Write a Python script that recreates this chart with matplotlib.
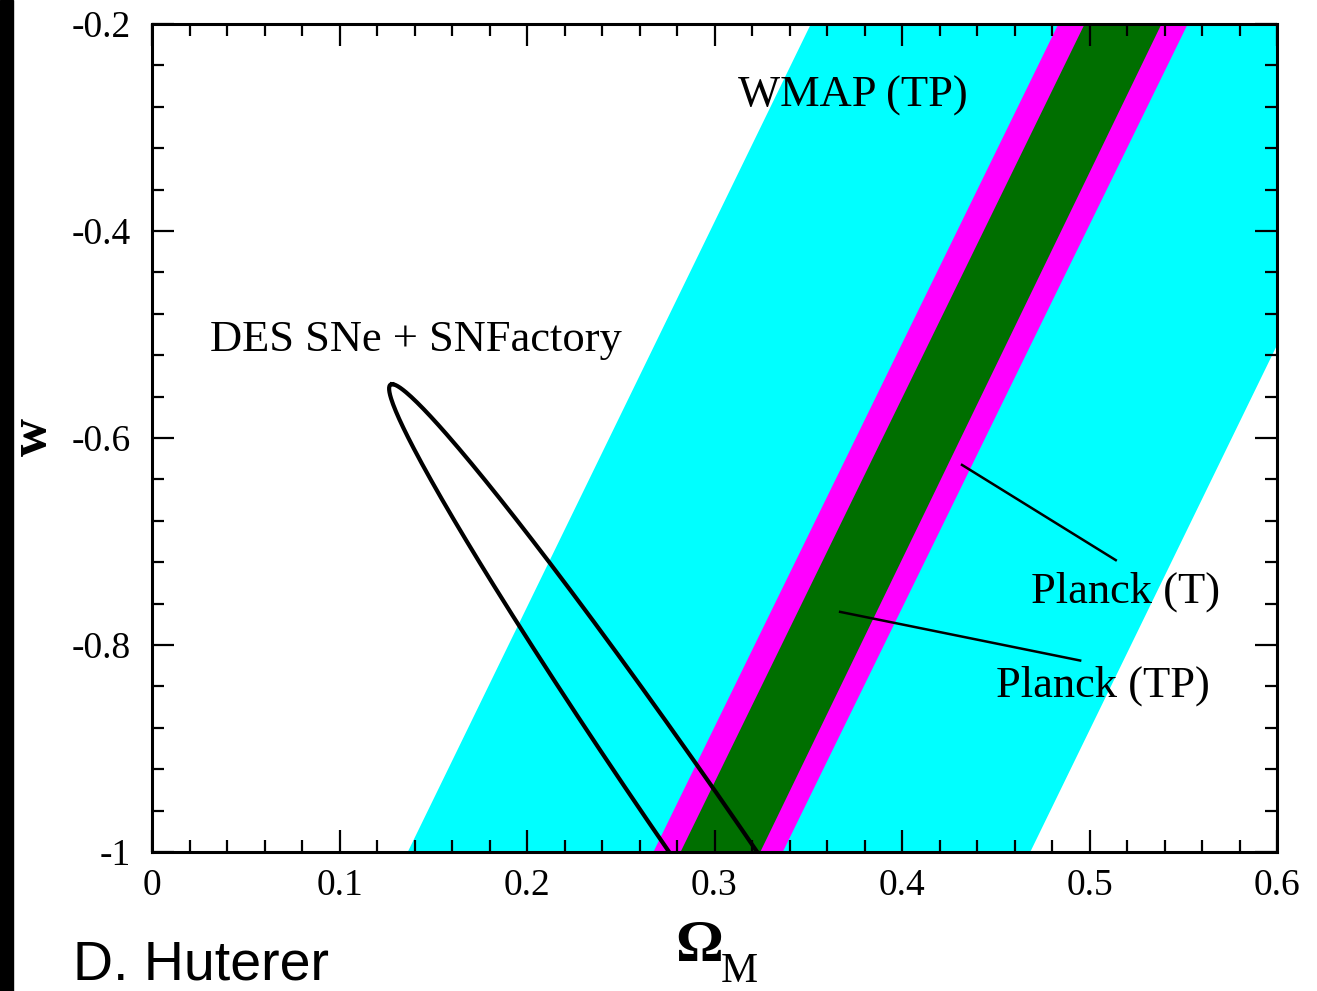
import numpy as np
import matplotlib
matplotlib.use("Agg")
from matplotlib import pyplot as plt
from matplotlib.patches import Rectangle

plt.rcParams['font.family'] = 'Liberation Serif'
plt.rcParams['axes.unicode_minus'] = False

# band edges: Omega_M at w=-1 and at w=-0.2
w_ends = [-1.0, -0.2]
wmap_left = [0.136, 0.351]
wmap_right = [0.468, 0.683]
planckT_left = [0.267, 0.483]
planckT_right = [0.336, 0.552]
planckTP_left = [0.2815, 0.497]
planckTP_right = [0.324, 0.538]

# DES SNe + SNFactory contour (ellipse: centre, half-extent in w, shear, half-width)
des_center = (0.2955, -0.990)
des_half_w = 0.442
des_shear = -0.1674
des_half_om = 0.0235

# labels (Omega_M, w) and pointer lines
label_txt = ["WMAP (TP)", "DES SNe + SNFactory", "Planck (T)", "Planck (TP)"]
label_om = [0.374, 0.141, 0.519, 0.507]
label_w = [-0.280, -0.516, -0.759, -0.850]
ptrT_om = [0.432, 0.514]
ptrT_w = [-0.626, -0.718]
ptrTP_om = [0.367, 0.495]
ptrTP_w = [-0.768, -0.815]

xticks = [0, 0.1, 0.2, 0.3, 0.4, 0.5, 0.6]
xticklabels = ["0", "0.1", "0.2", "0.3", "0.4", "0.5", "0.6"]
yticks = [-1, -0.8, -0.6, -0.4, -0.2]
yticklabels = ["-1", "-0.8", "-0.6", "-0.4", "-0.2"]

fig = plt.figure(figsize=(13.17, 9.91), dpi=100)
ax = fig.add_axes([152/1317, 1-852/991, 1125/1317, 828/991])

ax.fill_betweenx(w_ends, wmap_left, wmap_right, color='#00FFFF', lw=0)
ax.fill_betweenx(w_ends, planckT_left, planckT_right, color='#FF00FF', lw=0)
ax.fill_betweenx(w_ends, planckTP_left, planckTP_right, color='#006F00', lw=0)

t = np.linspace(0, 2*np.pi, 400)
ell_w = des_center[1] + des_half_w*np.cos(t)
ell_om = des_center[0] + des_shear*np.cos(t) + des_half_om*np.sin(t)
ax.plot(ell_om, ell_w, color='black', lw=3)

ax.plot(ptrT_om, ptrT_w, color='black', lw=1.8)
ax.plot(ptrTP_om, ptrTP_w, color='black', lw=1.8)

for s, xo, yo in zip(label_txt, label_om, label_w):
    ax.text(xo, yo, s, fontsize=32, ha='center', va='baseline')

ax.set_xlim(0, 0.6)
ax.set_ylim(-1, -0.2)
ax.set_xticks(xticks)
ax.set_xticklabels(xticklabels)
ax.set_yticks(yticks)
ax.set_yticklabels(yticklabels)
ax.set_xticks(np.arange(0, 0.601, 0.02), minor=True)
ax.set_yticks(np.arange(-1, -0.199, 0.04), minor=True)
ax.tick_params(which='both', direction='in', top=True, right=True, width=1.6)
ax.tick_params(which='major', length=16, labelsize=27, pad=12)
ax.tick_params(which='minor', length=8.5)
ax.tick_params(axis='y', pad=15)
for sp in ax.spines.values():
    sp.set_linewidth(2.2)

fig.text(33/1317, 1-437/991, "w", fontsize=38, fontweight='bold', rotation=90,
         ha='center', va='center')
# Omega_M axis label: bold Omega with a plain M subscript
fig.text(723/1317, 1-961/991, "\u03a9", fontsize=43, fontweight='bold',
         ha='right', va='baseline')
fig.text(721/1317, 1-982/991, "M", fontsize=30, ha='left', va='baseline')
fig.text(73/1317, 1-980/991, "D. Huterer", fontsize=40, family='Liberation Sans',
         ha='left', va='baseline')

fig.patches.append(Rectangle((0, 0), 13/1317, 1, transform=fig.transFigure,
                             color='black', zorder=10))

fig.savefig("out.png", dpi=100)
